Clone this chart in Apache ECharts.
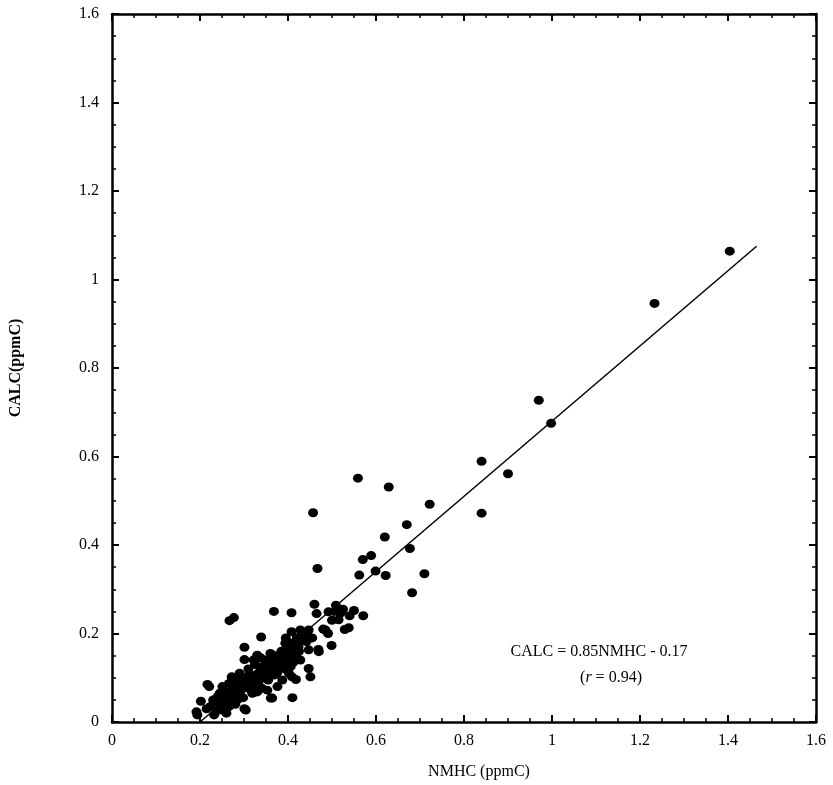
<!DOCTYPE html>
<html>
<head>
<meta charset="utf-8">
<title>CALC vs NMHC</title>
<script src="https://cdn.jsdelivr.net/npm/echarts@6/dist/echarts.min.js"></script>
<style>
  html, body { margin: 0; padding: 0; background: #fff; }
  #chart { width: 833px; height: 785px; }
</style>
</head>
<body>
<div id="chart"></div>
<script>
// Measured NMHC (ppmC) and calculated CALC (ppmC), one entry per sample
const nmhc = [
  1.404, 1.233, 0.970, 0.998, 0.840, 0.900, 0.840, 0.559, 0.629, 0.722,
  0.457, 0.670, 0.620, 0.677, 0.589, 0.570, 0.467, 0.599, 0.562, 0.622,
  0.710, 0.682,
  0.460, 0.509, 0.368, 0.408, 0.550, 0.571, 0.465, 0.492, 0.519, 0.515,
  0.277, 0.267, 0.538, 0.529, 0.485, 0.491, 0.408, 0.428, 0.447, 0.439,
  0.339, 0.469, 0.499, 0.421, 0.403, 0.442, 0.394, 0.406, 0.424, 0.447,
  0.470, 0.301, 0.301, 0.402, 0.428, 0.406, 0.447, 0.451, 0.409, 0.418,
  0.410, 0.361, 0.301, 0.217, 0.202, 0.192, 0.272,
  0.330, 0.360, 0.379, 0.273, 0.288, 0.311, 0.338, 0.357, 0.394, 0.402,
  0.221, 0.240, 0.258, 0.281, 0.304, 0.319, 0.341, 0.364, 0.194, 0.224,
  0.243, 0.266, 0.285, 0.304, 0.232, 0.251, 0.323, 0.349, 0.368, 0.387,
  0.266, 0.251, 0.319, 0.330, 0.353, 0.376,
  0.345, 0.335, 0.315, 0.295, 0.285, 0.270, 0.255, 0.245, 0.230, 0.215,
  0.355, 0.365, 0.375, 0.385, 0.390, 0.370, 0.350, 0.325, 0.310, 0.300,
  0.290, 0.335, 0.260, 0.280, 0.385, 0.415, 0.420, 0.435, 0.455, 0.480,
  0.500, 0.505, 0.525, 0.540,
  0.235, 0.248, 0.262, 0.275, 0.268, 0.292, 0.298, 0.308, 0.318, 0.312,
  0.328, 0.332, 0.342, 0.348, 0.358, 0.362, 0.372, 0.378, 0.382, 0.392,
  0.398, 0.398, 0.412, 0.412, 0.418, 0.425, 0.432, 0.395, 0.256, 0.282,
  0.322, 0.338
];
const calc = [
  1.064, 0.946, 0.727, 0.675, 0.589, 0.561, 0.472, 0.551, 0.531, 0.492,
  0.473, 0.446, 0.418, 0.392, 0.376, 0.367, 0.347, 0.341, 0.332, 0.331,
  0.335, 0.292,
  0.266, 0.264, 0.250, 0.247, 0.252, 0.240, 0.245, 0.249, 0.246, 0.231,
  0.236, 0.229, 0.213, 0.209, 0.208, 0.200, 0.204, 0.208, 0.208, 0.198,
  0.192, 0.164, 0.173, 0.177, 0.167, 0.182, 0.178, 0.178, 0.170, 0.163,
  0.159, 0.169, 0.141, 0.148, 0.140, 0.125, 0.121, 0.102, 0.102, 0.096,
  0.055, 0.054, 0.030, 0.085, 0.047, 0.023, 0.102,
  0.151, 0.155, 0.140, 0.099, 0.095, 0.106, 0.118, 0.125, 0.133, 0.110,
  0.080, 0.057, 0.068, 0.072, 0.080, 0.084, 0.076, 0.054, 0.016, 0.035,
  0.027, 0.035, 0.050, 0.027, 0.016, 0.050, 0.102, 0.136, 0.106, 0.095,
  0.087, 0.080, 0.065, 0.068, 0.072, 0.080,
  0.110, 0.095, 0.090, 0.085, 0.060, 0.055, 0.040, 0.065, 0.050, 0.030,
  0.095, 0.120, 0.110, 0.125, 0.145, 0.150, 0.140, 0.130, 0.120, 0.100,
  0.110, 0.080, 0.020, 0.040, 0.160, 0.155, 0.190, 0.185, 0.190, 0.210,
  0.230, 0.250, 0.255, 0.240,
  0.045, 0.035, 0.060, 0.075, 0.045, 0.070, 0.055, 0.095, 0.105, 0.075,
  0.085, 0.110, 0.125, 0.100, 0.115, 0.135, 0.130, 0.120, 0.145, 0.120,
  0.155, 0.140, 0.165, 0.135, 0.150, 0.160, 0.195, 0.190, 0.025, 0.090,
  0.140, 0.145
];

// Least-squares fit stated on the chart: CALC = 0.85 NMHC - 0.17 (r = 0.94)
const fitSlope = 0.85;
const fitIntercept = -0.17;
const fitRange = [0.2, 1.465];
const fitLabel = 'CALC = 0.85NMHC - 0.17';
const fitR = '0.94';

// Axis scale
const axisMin = 0;
const axisMax = 1.6;
const axisStep = 0.2;

const points = nmhc.map((x, i) => [x, calc[i]]);
const fitLine = fitRange.map(x => [x, fitSlope * x + fitIntercept]);

const serif = 'Liberation Serif';
const ink = '#000';

function frameAxis(position, showLabels) {
  return {
    type: 'value',
    position: position,
    min: axisMin,
    max: axisMax,
    interval: axisStep,
    axisLine: { show: true, onZero: false, lineStyle: { color: ink, width: 2.5 } },
    axisTick: { show: true, inside: true, length: 7, lineStyle: { color: ink, width: 2 } },
    minorTick: { show: true, splitNumber: 4, length: 4, lineStyle: { color: ink, width: 1.5 } },
    splitLine: { show: false },
    minorSplitLine: { show: false },
    axisLabel: {
      show: showLabels,
      color: ink,
      fontFamily: serif,
      fontSize: 16
    }
  };
}

const xBottom = frameAxis('bottom', true);
xBottom.axisLabel.margin = 11;
xBottom.name = 'NMHC (ppmC)';
xBottom.nameLocation = 'middle';
xBottom.nameGap = 42;
xBottom.nameTextStyle = { color: ink, fontFamily: serif, fontSize: 16, padding: [0, 0, 0, 30] };

const yLeft = frameAxis('left', true);
yLeft.axisLabel.margin = 13;
yLeft.name = 'CALC(ppmC)';
yLeft.nameLocation = 'middle';
yLeft.nameGap = 88;
yLeft.nameTextStyle = { color: ink, fontFamily: serif, fontSize: 16, fontWeight: 'bold' };

const chart = echarts.init(document.getElementById('chart'), null, { renderer: 'canvas' });

chart.setOption({
  backgroundColor: '#fff',
  animation: false,
  grid: { left: 111, right: 17, top: 14, bottom: 63, containLabel: false },
  xAxis: [xBottom, frameAxis('top', false)],
  yAxis: [yLeft, frameAxis('right', false)],
  series: [
    {
      type: 'scatter',
      xAxisIndex: 0,
      yAxisIndex: 0,
      data: points,
      symbol: 'circle',
      symbolSize: [10, 9],
      itemStyle: { color: ink, opacity: 1 }
    },
    {
      type: 'line',
      xAxisIndex: 0,
      yAxisIndex: 0,
      data: fitLine,
      showSymbol: false,
      lineStyle: { color: ink, width: 1.5 },
      z: 3
    }
  ],
  graphic: [
    {
      type: 'text',
      x: 599,
      y: 652,
      style: {
        text: fitLabel,
        fill: ink,
        font: '16px "Liberation Serif"',
        textAlign: 'center',
        textVerticalAlign: 'middle'
      }
    },
    {
      type: 'text',
      x: 611,
      y: 678,
      style: {
        text: '({i|r} = ' + fitR + ')',
        fill: ink,
        font: '16px "Liberation Serif"',
        textAlign: 'center',
        textVerticalAlign: 'middle',
        rich: {
          i: { fontStyle: 'italic', fontFamily: serif, fontSize: 16, fill: ink }
        }
      }
    }
  ]
});
</script>
</body>
</html>
